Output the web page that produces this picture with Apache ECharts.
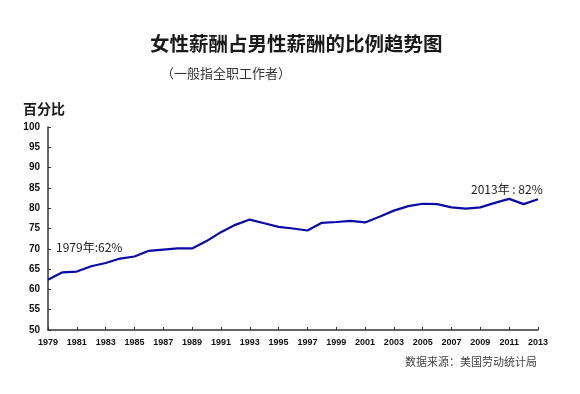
<!DOCTYPE html>
<html><head><meta charset="utf-8">
<script src="https://cdn.jsdelivr.net/npm/echarts@6/dist/echarts.min.js"></script>
<style>html,body{margin:0;padding:0;background:#fff}#c{width:580px;height:394px}</style>
</head><body><div id="c"></div>
<script>
var years = [];
for (var y = 1979; y <= 2013; y++) years.push(String(y));
var ratio = [62.4, 64.2, 64.4, 65.7, 66.5, 67.6, 68.1, 69.5, 69.8, 70.1, 70.1, 71.9, 74.1, 75.9, 77.2, 76.3, 75.4, 75.0, 74.5, 76.4, 76.6, 76.9, 76.5, 77.9, 79.4, 80.5, 81.1, 81.0, 80.2, 79.9, 80.2, 81.3, 82.3, 81.0, 82.2];
var titleText = '女性薪酬占男性薪酬的比例趋势图';
var subtitleText = '（一般指全职工作者）';
var yName = '百分比';
var note1979 = '1979年:62%';
var note2013 = '2013年 : 82%';
var sourceText = '数据来源：美国劳动统计局';

var cjk = '"Noto Sans CJK SC", sans-serif';
var chart = echarts.init(document.getElementById('c'), null, {renderer: 'canvas'});
chart.setOption({
  backgroundColor: '#fff',
  animation: false,
  grid: {left: 48, right: 42, top: 127, bottom: 64},
  graphic: [
    {type: 'text', left: 150, top: 34, style: {text: titleText, font: 'bold 19.5px ' + cjk, fill: '#1a1a1a'}},
    {type: 'text', left: 161, top: 67, style: {text: subtitleText, font: '13px ' + cjk, fill: '#333'}},
    {type: 'text', left: 23, top: 102, style: {text: yName, font: 'bold 14px ' + cjk, fill: '#1a1a1a'}},
    {type: 'text', left: 56, top: 241, style: {text: note1979, font: '12px ' + cjk, fill: '#222'}},
    {type: 'text', left: 471, top: 183, style: {text: note2013, font: '12px ' + cjk, fill: '#222'}},
    {type: 'text', left: 405, top: 356, style: {text: sourceText, font: '11px ' + cjk, fill: '#444'}}
  ],
  xAxis: {
    type: 'category', data: years, boundaryGap: false,
    axisLine: {lineStyle: {color: '#333', width: 1.5}},
    axisTick: {inside: true, length: 3, interval: 1, lineStyle: {color: '#333'}},
    axisLabel: {interval: 1, color: '#111', fontSize: 9, fontWeight: 'bold', fontFamily: 'Liberation Sans', margin: 8},
    splitLine: {show: false}
  },
  yAxis: {
    type: 'value', min: 50, max: 100, interval: 5,
    axisLine: {show: true, lineStyle: {color: '#333', width: 1.5}},
    axisTick: {show: true, inside: true, length: 3, lineStyle: {color: '#333'}},
    axisLabel: {color: '#111', fontSize: 10, fontWeight: 'bold', fontFamily: 'Liberation Sans', margin: 8},
    splitLine: {show: false}
  },
  series: [{
    type: 'line', data: ratio, symbol: 'none',
    lineStyle: {color: '#0a0aa8', width: 2.2}
  }]
});
</script></body></html>
